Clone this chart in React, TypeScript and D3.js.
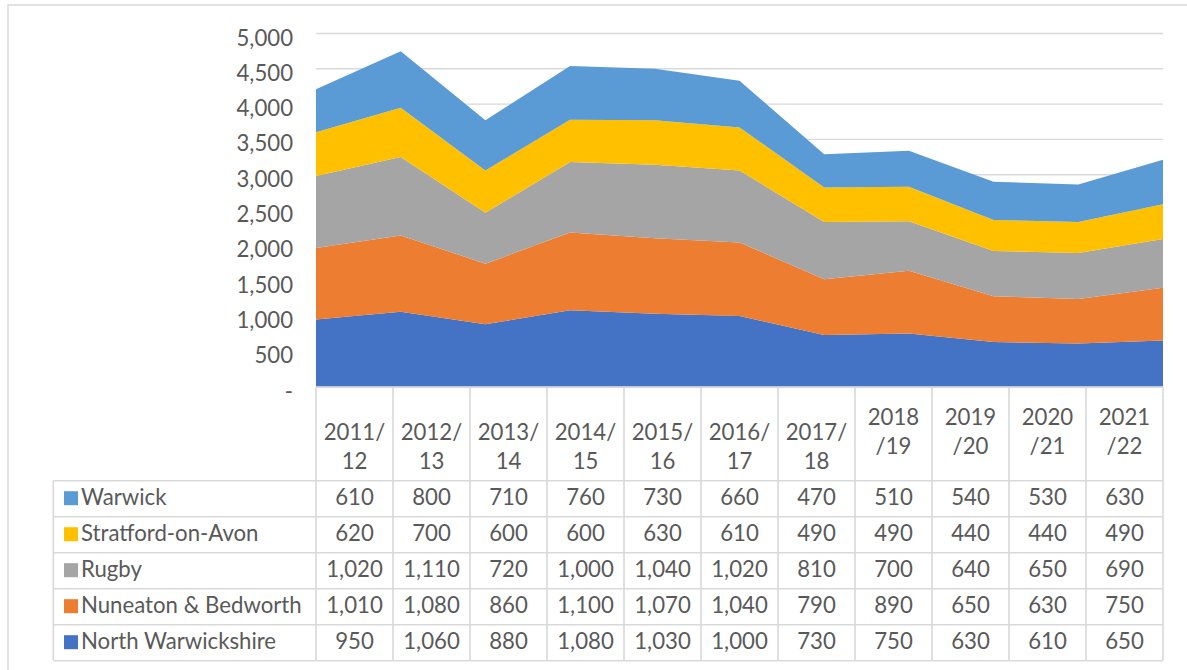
import React from "react";
import * as d3 from "d3";

const categories = ["2011/12", "2012/13", "2013/14", "2014/15", "2015/16", "2016/17", "2017/18", "2018/19", "2019/20", "2020/21", "2021/22"];
const categoryLines = [
  ["2011/", "12"], ["2012/", "13"], ["2013/", "14"], ["2014/", "15"], ["2015/", "16"], ["2016/", "17"], ["2017/", "18"],
  ["2018", "/19"], ["2019", "/20"], ["2020", "/21"], ["2021", "/22"],
];
const northWarwickshire = [950, 1060, 880, 1080, 1030, 1000, 730, 750, 630, 610, 650];
const nuneatonBedworth = [1010, 1080, 860, 1100, 1070, 1040, 790, 890, 650, 630, 750];
const rugby = [1020, 1110, 720, 1000, 1040, 1020, 810, 700, 640, 650, 690];
const stratford = [620, 700, 600, 600, 630, 610, 490, 490, 440, 440, 490];
const warwick = [610, 800, 710, 760, 730, 660, 470, 510, 540, 530, 630];
const yTicks = [0, 500, 1000, 1500, 2000, 2500, 3000, 3500, 4000, 4500, 5000];

// stacking order bottom -> top
const seriesNames = ["North Warwickshire", "Nuneaton & Bedworth", "Rugby", "Stratford-on-Avon", "Warwick"];
const seriesValues = [northWarwickshire, nuneatonBedworth, rugby, stratford, warwick];
const seriesColors = ["#4472C4", "#ED7D31", "#A5A5A5", "#FFC000", "#5B9BD5"];

const FONT = "Lato, 'Open Sans', sans-serif";
const TXT = "#595959";
const GRID = "#d9d9d9";

export default function App() {
  const left = 316, right = 1163, top = 33.5, bottom = 386.5;
  const y = d3.scaleLinear().domain([0, 5000]).range([bottom, top]);
  const x = d3.scaleLinear().domain([0, categories.length - 1]).range([left, right]);
  const band = d3.scaleBand<string>().domain(categories).range([left, right]).paddingInner(0);

  const rows = categories.map((c, i) => {
    const r: any = { cat: c };
    seriesNames.forEach((s, k) => (r[s] = seriesValues[k][i]));
    return r;
  });
  const stacked = d3.stack<any>().keys(seriesNames)(rows);
  const area = d3
    .area<any>()
    .x((_d, i) => x(i))
    .y0((d) => y(d[0]))
    .y1((d) => y(d[1]));

  const fmt = d3.format(",");
  const tableTop = 387.3;
  const headerBottom = 480.7;
  const rowH = 36;
  const tableBottom = headerBottom + rowH * 5;
  const legendLeft = 53.3;
  const fs = 22.2;

  // table rows top -> bottom (reverse of stacking)
  const tableOrder = [4, 3, 2, 1, 0];

  return (
    <svg
      width={1187}
      height={670}
      style={{ position: "absolute", left: 0, top: 0, background: "#fff" }}
      fontFamily={FONT}
    >
      <rect x={8} y={5} width={1300} height={800} fill="#fff" stroke={GRID} strokeWidth={1.5} />
      {yTicks.slice(1).map((t) => (
        <line key={t} x1={left} x2={right} y1={y(t)} y2={y(t)} stroke={GRID} strokeWidth={1.4} />
      ))}
      {stacked.map((s, k) => (
        <path key={s.key} d={area(s) || ""} fill={seriesColors[k]} />
      ))}
      {yTicks.map((t) => (
        <text key={t} x={293} y={y(t) + 12} textAnchor="end" fontSize={fs} fill={TXT}>
          {t === 0 ? "-" : fmt(t)}
        </text>
      ))}

      {/* data table */}
      <g stroke={GRID} strokeWidth={1.6} fill="none">
        <line x1={left} x2={right} y1={tableTop} y2={tableTop} />
        <line x1={legendLeft} x2={right} y1={tableBottom} y2={tableBottom} />
        {d3.range(5).map((r) => (
          <line key={r} x1={legendLeft} x2={right} y1={headerBottom + r * rowH} y2={headerBottom + r * rowH} />
        ))}
        <line x1={legendLeft} x2={legendLeft} y1={headerBottom} y2={tableBottom} />
        {categories.map((c) => (
          <line key={c} x1={band(c)!} x2={band(c)!} y1={tableTop} y2={tableBottom} />
        ))}
        <line x1={right} x2={right} y1={tableTop} y2={tableBottom} />
      </g>
      {categories.map((c, i) => {
        const cx = band(c)! + band.bandwidth() / 2;
        const b1 = i < 7 ? 440 : 425;
        return (
          <text key={c} textAnchor="middle" fontSize={fs} fill={TXT}>
            <tspan x={cx} y={b1}>{categoryLines[i][0]}</tspan>
            <tspan x={cx} y={b1 + 29}>{categoryLines[i][1]}</tspan>
          </text>
        );
      })}
      {tableOrder.map((k, r) => {
        const ry = headerBottom + r * rowH;
        return (
          <g key={seriesNames[k]}>
            <rect x={64} y={ry + 10.5} width={14} height={14} fill={seriesColors[k]} />
            <text x={81} y={ry + 24.5} fontSize={fs} fill={TXT}>{seriesNames[k]}</text>
            {categories.map((c, i) => (
              <text
                key={c}
                x={band(c)! + band.bandwidth() / 2}
                y={ry + 24.5}
                textAnchor="middle"
                fontSize={fs}
                fill={TXT}
              >
                {fmt(seriesValues[k][i])}
              </text>
            ))}
          </g>
        );
      })}
    </svg>
  );
}
